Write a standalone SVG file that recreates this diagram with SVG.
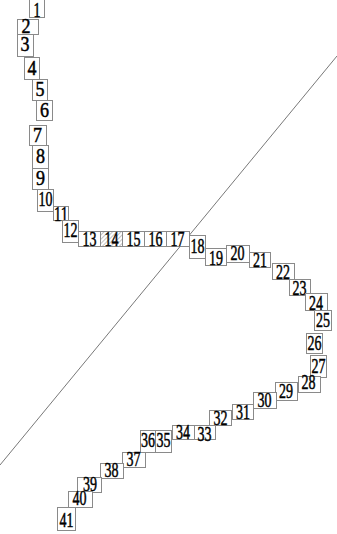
<svg xmlns="http://www.w3.org/2000/svg" width="337" height="534" viewBox="0 0 337 534">
<style>
.b rect{fill:#fff;stroke:#8a8a8a;stroke-width:1}
.b rect.h{fill:url(#hatch)}
.b text{font-family:"Liberation Serif",serif;font-size:21px;fill:#000;stroke:#000;stroke-width:0.5;text-anchor:middle}
.ln{stroke:#555;stroke-width:0.8;fill:none}
</style>
<defs>
<pattern id="hatch" width="3" height="3" patternUnits="userSpaceOnUse" patternTransform="rotate(45)">
<rect width="3" height="3" fill="#fff"/>
<line x1="0" y1="0" x2="0" y2="3" stroke="#8a8a8a" stroke-width="1"/>
</pattern>
</defs>
<g id="connectors">
<line class="ln" x1="337" y1="56" x2="0" y2="465"/>
</g>
<g class="b">
<g id="n1"><rect x="29.5" y="-0.5" width="15" height="18"/><text x="37" y="16.5" textLength="7" lengthAdjust="spacingAndGlyphs">1</text></g>
<g id="n2"><rect x="17.5" y="19.5" width="21" height="15"/><text x="26" y="33" textLength="9" lengthAdjust="spacingAndGlyphs">2</text></g>
<g id="n3"><rect x="17.5" y="34.5" width="16" height="22"/><text x="25" y="51" textLength="9" lengthAdjust="spacingAndGlyphs">3</text></g>
<g id="n4"><rect x="24.5" y="57.5" width="15" height="22"/><text x="32" y="75" textLength="9" lengthAdjust="spacingAndGlyphs">4</text></g>
<g id="n5"><rect x="32.5" y="79.5" width="15" height="21"/><text x="40" y="96" textLength="9" lengthAdjust="spacingAndGlyphs">5</text></g>
<g id="n6"><rect x="36.5" y="100.5" width="16" height="20"/><text x="44.5" y="117" textLength="9" lengthAdjust="spacingAndGlyphs">6</text></g>
<g id="n7"><rect x="29.5" y="125.5" width="17" height="20"/><text x="37.5" y="142" textLength="9" lengthAdjust="spacingAndGlyphs">7</text></g>
<g id="n8"><rect x="32.5" y="145.5" width="16" height="23"/><text x="40.5" y="163" textLength="9" lengthAdjust="spacingAndGlyphs">8</text></g>
<g id="n9"><rect x="32.5" y="168.5" width="16" height="21"/><text x="40.5" y="185" textLength="9" lengthAdjust="spacingAndGlyphs">9</text></g>
<g id="n10"><rect x="37.5" y="189.5" width="16" height="22"/><text x="45.5" y="206" textLength="14" lengthAdjust="spacingAndGlyphs">10</text></g>
<g id="n11"><rect x="53.5" y="206.5" width="15" height="14"/><text x="61" y="221" textLength="14" lengthAdjust="spacingAndGlyphs">11</text></g>
<g id="n12"><rect x="62.5" y="220.5" width="16" height="22"/><text x="70.5" y="237" textLength="14" lengthAdjust="spacingAndGlyphs">12</text></g>
<g id="n13"><rect x="78.5" y="231.5" width="22" height="15"/><text x="89.5" y="246" textLength="14" lengthAdjust="spacingAndGlyphs">13</text></g>
<g id="n14"><rect class="h" x="100.5" y="231.5" width="22" height="15"/><text x="111.5" y="246" textLength="14" lengthAdjust="spacingAndGlyphs">14</text></g>
<g id="n15"><rect x="122.5" y="231.5" width="22" height="15"/><text x="133.5" y="246" textLength="14" lengthAdjust="spacingAndGlyphs">15</text></g>
<g id="n16"><rect x="144.5" y="231.5" width="22" height="15"/><text x="155.5" y="246" textLength="14" lengthAdjust="spacingAndGlyphs">16</text></g>
<g id="n17"><rect x="166.5" y="231.5" width="23" height="15"/><text x="177.5" y="246" textLength="14" lengthAdjust="spacingAndGlyphs">17</text></g>
<g id="n18"><rect x="189.5" y="235.5" width="16" height="23"/><text x="197.5" y="253" textLength="14" lengthAdjust="spacingAndGlyphs">18</text></g>
<g id="n19"><rect x="205.5" y="248.5" width="21" height="17"/><text x="216" y="265" textLength="14" lengthAdjust="spacingAndGlyphs">19</text></g>
<g id="n20"><rect x="226.5" y="245.5" width="23" height="17"/><text x="237.5" y="260" textLength="14" lengthAdjust="spacingAndGlyphs">20</text></g>
<g id="n21"><rect x="249.5" y="252.5" width="21" height="15"/><text x="260" y="267" textLength="14" lengthAdjust="spacingAndGlyphs">21</text></g>
<g id="n22"><rect x="272.5" y="263.5" width="22" height="16"/><text x="283" y="279" textLength="14" lengthAdjust="spacingAndGlyphs">22</text></g>
<g id="n23"><rect x="289.5" y="279.5" width="21" height="16"/><text x="299.5" y="295" textLength="14" lengthAdjust="spacingAndGlyphs">23</text></g>
<g id="n24"><rect x="305.5" y="293.5" width="22" height="17"/><text x="316" y="310" textLength="14" lengthAdjust="spacingAndGlyphs">24</text></g>
<g id="n25"><rect x="314.5" y="310.5" width="17" height="20"/><text x="323" y="327" textLength="14" lengthAdjust="spacingAndGlyphs">25</text></g>
<g id="n26"><rect x="306.5" y="333.5" width="16" height="20"/><text x="314.5" y="350" textLength="14" lengthAdjust="spacingAndGlyphs">26</text></g>
<g id="n27"><rect x="310.5" y="355.5" width="16" height="22"/><text x="318.5" y="373" textLength="14" lengthAdjust="spacingAndGlyphs">27</text></g>
<g id="n28"><rect x="298.5" y="376.5" width="22" height="16"/><text x="308.5" y="389" textLength="14" lengthAdjust="spacingAndGlyphs">28</text></g>
<g id="n29"><rect x="275.5" y="382.5" width="22" height="18"/><text x="286" y="398" textLength="14" lengthAdjust="spacingAndGlyphs">29</text></g>
<g id="n30"><rect x="253.5" y="392.5" width="23" height="16"/><text x="264.5" y="407" textLength="14" lengthAdjust="spacingAndGlyphs">30</text></g>
<g id="n31"><rect x="232.5" y="404.5" width="21" height="15"/><text x="243" y="419" textLength="14" lengthAdjust="spacingAndGlyphs">31</text></g>
<g id="n32"><rect x="209.5" y="410.5" width="22" height="15"/><text x="220.5" y="425" textLength="14" lengthAdjust="spacingAndGlyphs">32</text></g>
<g id="n33"><rect x="194.5" y="425.5" width="21" height="14"/><text x="204.5" y="441" textLength="14" lengthAdjust="spacingAndGlyphs">33</text></g>
<g id="n34"><rect x="172.5" y="425.5" width="22" height="14"/><text x="183" y="439" textLength="14" lengthAdjust="spacingAndGlyphs">34</text></g>
<g id="n35"><rect x="155.5" y="430.5" width="16" height="22"/><text x="163.5" y="447" textLength="14" lengthAdjust="spacingAndGlyphs">35</text></g>
<g id="n36"><rect x="140.5" y="430.5" width="15" height="22"/><text x="148" y="447" textLength="14" lengthAdjust="spacingAndGlyphs">36</text></g>
<g id="n37"><rect x="122.5" y="452.5" width="23" height="15"/><text x="133.5" y="466" textLength="14" lengthAdjust="spacingAndGlyphs">37</text></g>
<g id="n38"><rect x="100.5" y="463.5" width="23" height="15"/><text x="111.5" y="477" textLength="14" lengthAdjust="spacingAndGlyphs">38</text></g>
<g id="n39"><rect x="77.5" y="477.5" width="24" height="15"/><text x="90" y="491" textLength="14" lengthAdjust="spacingAndGlyphs">39</text></g>
<g id="n40"><rect x="68.5" y="491.5" width="24" height="16"/><text x="79.5" y="505" textLength="14" lengthAdjust="spacingAndGlyphs">40</text></g>
<g id="n41"><rect x="57.5" y="507.5" width="18" height="23"/><text x="66.5" y="527" textLength="14" lengthAdjust="spacingAndGlyphs">41</text></g>
</g>
</svg>
